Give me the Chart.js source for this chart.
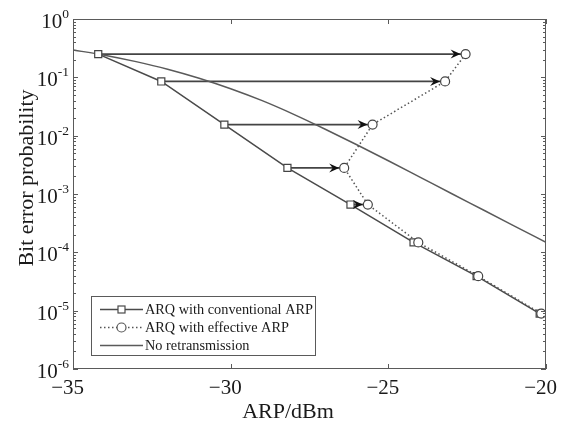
<!DOCTYPE html>
<html>
<head>
<meta charset="utf-8">
<script src="https://cdn.jsdelivr.net/npm/chart.js@4"></script>
<style>
  body { margin: 0; background: #fff; }
  canvas { display: block; }
</style>
</head>
<body>
<canvas id="berChart" width="561" height="421"></canvas>
<script>
const arpConv = [-34.2, -32.2, -30.2, -28.2, -26.2, -24.2, -22.2, -20.2];
const arpEff = [-22.55, -23.2, -25.5, -26.4, -25.65, -24.05, -22.15, -20.15];
const berArq = [0.25, 0.085, 0.0155, 0.0028, 6.6e-4, 1.48e-4, 3.9e-5, 8.9e-6];
const arpNoRetx = [-35, -34, -33, -32, -31, -30, -29, -28, -27, -26, -25, -24, -23, -22, -21, -20];
const berNoRetx = [0.295, 0.24, 0.186, 0.138, 0.0966, 0.0638, 0.0398, 0.0232, 0.0129, 0.0070, 0.00372, 0.00195, 0.00102, 5.37e-4, 2.82e-4, 1.48e-4];
const xTicks = [-35, -30, -25, -20];
const yExps = [0, -1, -2, -3, -4, -5, -6];
const seriesLabels = ['ARQ with conventional ARP', 'ARQ with effective ARP', 'No retransmission'];
const arrowCount = 5;

const lineColor = '#4a4a4a';
const textColor = '#1a1a1a';
const serif = '"Liberation Serif", "Times New Roman", serif';
const circleR = 4.5;

const pts = (xs, ys) => xs.map((x, i) => ({x: x, y: ys[i]}));

const arrows = [];
for (let i = 0; i < arrowCount; i++) {
    arrows.push({
        label: 'arrow' + i,
        data: [{x: arpConv[i], y: berArq[i]}, {x: arpEff[i], y: berArq[i]}],
        showLine: true,
        borderColor: '#444',
        borderWidth: 1.8,
        pointRadius: 0,
        isArrow: true
    });
}

const decorPlugin = {
    id: 'decor',
    afterDatasetsDraw(chart) {
        const ctx = chart.ctx;
        const xs = chart.scales.x, ys = chart.scales.y;
        const a = chart.chartArea;

        // arrow heads
        ctx.save();
        ctx.fillStyle = '#111';
        chart.data.datasets.forEach((ds, i) => {
            if (!ds.isArrow) return;
            const pt = chart.getDatasetMeta(i).data[1];
            const tx = pt.x - circleR - 0.5, ty = pt.y;
            ctx.beginPath();
            ctx.moveTo(tx, ty);
            ctx.lineTo(tx - 10, ty - 4.5);
            ctx.lineTo(tx - 6.5, ty);
            ctx.lineTo(tx - 10, ty + 4.5);
            ctx.closePath();
            ctx.fill();
        });
        ctx.restore();

        // frame and ticks
        ctx.save();
        ctx.strokeStyle = '#5a5a5a';
        ctx.lineWidth = 1;
        ctx.strokeRect(a.left + 0.5, a.top + 0.5, a.right - a.left - 1, a.bottom - a.top - 1);
        ctx.beginPath();
        xTicks.forEach(v => {
            const px = Math.round(xs.getPixelForValue(v)) + 0.5;
            ctx.moveTo(px, a.bottom); ctx.lineTo(px, a.bottom - 5);
            ctx.moveTo(px, a.top); ctx.lineTo(px, a.top + 5);
        });
        yExps.forEach(e => {
            const py = Math.round(ys.getPixelForValue(Math.pow(10, e))) + 0.5;
            ctx.moveTo(a.left, py); ctx.lineTo(a.left + 5, py);
            ctx.moveTo(a.right, py); ctx.lineTo(a.right - 5, py);
            if (e > -6) {
                for (let m = 2; m <= 9; m++) {
                    const pm = Math.round(ys.getPixelForValue(m * Math.pow(10, e - 1))) + 0.5;
                    ctx.moveTo(a.left, pm); ctx.lineTo(a.left + 3, pm);
                    ctx.moveTo(a.right, pm); ctx.lineTo(a.right - 3, pm);
                }
            }
        });
        ctx.stroke();
        ctx.restore();

        // tick labels
        ctx.save();
        ctx.fillStyle = textColor;
        ctx.textBaseline = 'alphabetic';
        ctx.font = '21px ' + serif;
        ctx.textAlign = 'right';
        xTicks.forEach(v => {
            const px = xs.getPixelForValue(v);
            ctx.fillText('\u2212' + Math.abs(v), px + 11, a.bottom + 25);
        });
        yExps.forEach(e => {
            const py = ys.getPixelForValue(Math.pow(10, e));
            const sup = String(e);
            ctx.font = '13.5px ' + serif;
            const supW = ctx.measureText(sup).width;
            ctx.textAlign = 'left';
            ctx.fillText(sup, a.left - 4 - supW, py - 1);
            ctx.font = '21px ' + serif;
            ctx.textAlign = 'right';
            ctx.fillText('10', a.left - 4 - supW, py + 9);
        });

        // axis titles
        ctx.font = '22px ' + serif;
        ctx.textAlign = 'center';
        ctx.fillText('ARP/dBm', 288, 418);
        ctx.translate(27, 178);
        ctx.rotate(-Math.PI / 2);
        ctx.textBaseline = 'middle';
        ctx.fillText('Bit error probability', 0, 0);
        ctx.restore();

        // legend
        ctx.save();
        const lx = 91, ly = 296, lw = 224, lh = 59;
        ctx.fillStyle = '#fff';
        ctx.fillRect(lx, ly, lw, lh);
        ctx.strokeStyle = '#5a5a5a';
        ctx.lineWidth = 1;
        ctx.strokeRect(lx + 0.5, ly + 0.5, lw, lh);
        const rows = [309, 327, 345];
        const order = [1, 0, 2];
        ctx.font = '14.3px ' + serif;
        ctx.textAlign = 'left';
        ctx.textBaseline = 'middle';
        order.forEach((di, r) => {
            const ds = chart.data.datasets[di];
            const y = rows[r] + 0.5;
            ctx.strokeStyle = ds.borderColor;
            ctx.lineWidth = ds.borderWidth;
            ctx.setLineDash(ds.borderDash || []);
            ctx.beginPath();
            ctx.moveTo(100, y); ctx.lineTo(143, y);
            ctx.stroke();
            ctx.setLineDash([]);
            ctx.lineWidth = 1.2;
            if (ds.pointStyle === 'rect') {
                ctx.fillStyle = '#fff';
                ctx.fillRect(118, y - 3.5, 7, 7);
                ctx.strokeRect(118, y - 3.5, 7, 7);
            } else if (ds.pointStyle === 'circle') {
                ctx.fillStyle = '#fff';
                ctx.beginPath();
                ctx.arc(121.5, y, circleR, 0, Math.PI * 2);
                ctx.fill();
                ctx.stroke();
            }
            ctx.fillStyle = textColor;
            ctx.fillText(ds.label, 145, y + 1);
        });
        ctx.restore();
    }
};

new Chart(document.getElementById('berChart').getContext('2d'), {
    type: 'scatter',
    data: {
        datasets: [
            {
                label: seriesLabels[1],
                data: pts(arpEff, berArq),
                showLine: true,
                borderColor: '#555',
                borderWidth: 1.5,
                borderDash: [1.5, 2.5],
                pointStyle: 'circle',
                pointRadius: circleR,
                pointBorderWidth: 1.2,
                pointBorderColor: '#444',
                pointBackgroundColor: '#fff'
            },
            {
                label: seriesLabels[0],
                data: pts(arpConv, berArq),
                showLine: true,
                borderColor: lineColor,
                borderWidth: 1.5,
                pointStyle: 'rect',
                pointRadius: 5,
                pointBorderWidth: 1.2,
                pointBorderColor: '#444',
                pointBackgroundColor: '#fff'
            },
            {
                label: seriesLabels[2],
                data: pts(arpNoRetx, berNoRetx),
                showLine: true,
                borderColor: '#5a5a5a',
                borderWidth: 1.5,
                cubicInterpolationMode: 'monotone',
                pointRadius: 0
            },
            ...arrows
        ]
    },
    options: {
        responsive: false,
        animation: false,
        devicePixelRatio: 1,
        layout: { padding: { left: 73, right: 15, top: 19, bottom: 52 } },
        scales: {
            x: { type: 'linear', min: -35, max: -20, display: false },
            y: { type: 'logarithmic', min: 1e-6, max: 1, display: false }
        },
        plugins: {
            legend: { display: false },
            tooltip: { enabled: false }
        }
    },
    plugins: [decorPlugin]
});
</script>
</body>
</html>
